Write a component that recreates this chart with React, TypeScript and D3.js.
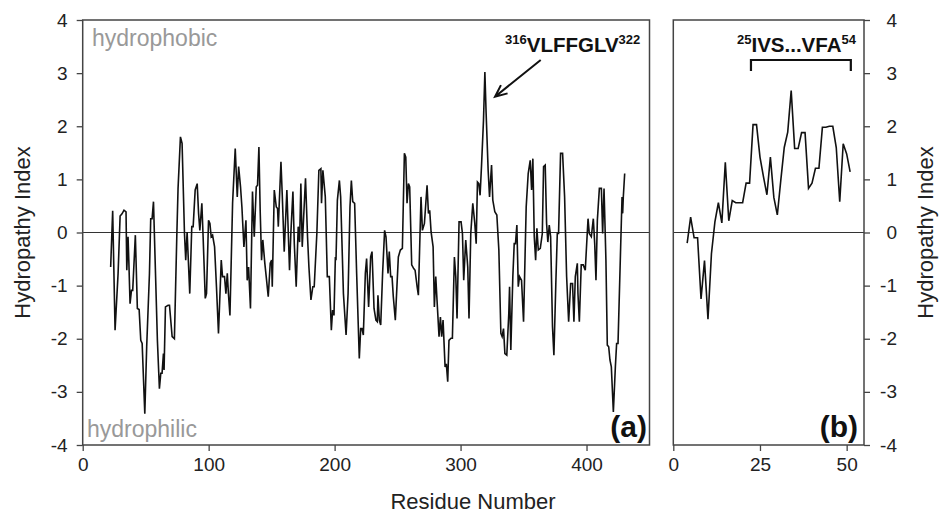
import React, { useEffect, useRef } from "react";
import * as d3 from "d3";

// panel (a): full sequence, residue number vs hydropathy index
const residuesA = [
  22.2, 23.8, 25.7, 28.1, 29.7, 31.2, 32.8, 34.4, 35.0, 36.0, 36.6, 37.6, 38.7, 39.7, 41.8, 43.4, 44.8, 46.1, 47.2, 49.3,
  50.8, 53.0, 54.0, 55.1, 56.2, 57.5, 59.3, 60.9, 62.0, 63.0, 64.1, 64.6, 65.7, 67.8, 68.9, 71.0, 72.8, 74.7, 75.7,
  77.6, 78.9, 80.8, 81.8, 82.9, 85.0, 86.6, 87.7, 89.3, 90.9, 92.0, 93.0, 94.6, 95.6, 97.3, 98.3, 99.9, 101.0, 102.0,
  103.1, 104.7, 106.2, 107.8, 110.0, 111.0, 112.6, 113.7, 114.8, 115.7, 116.9, 119.0, 121.1, 122.7, 123.8, 125.3, 126.4,
  128.0, 129.6, 130.6, 131.7, 133.2, 134.8,
  136.2, 137.8, 138.8, 139.9, 140.9, 142.0, 143.0, 144.6, 145.7, 147.3, 148.9, 150.0, 150.5, 152.1, 153.7, 154.7, 155.3,
  157.4, 158.4, 160.0, 162.1, 164.2, 165.3, 166.9, 168.0, 169.5, 171.1, 172.2, 173.2, 174.3, 175.3, 176.9, 178.5, 179.6,
  181.2, 182.7, 183.8, 185.9, 187.5, 189.1, 189.6, 190.7,
  192.6, 194.2, 195.8, 197.4, 198.4, 199.5, 200.6, 201.1, 202.2, 203.8, 204.8, 207.0, 209.1, 210.7, 212.2, 213.3, 214.4,
  215.9, 217.5, 219.6, 220.7, 221.7, 222.8, 224.4, 225.4, 227.0, 228.6, 229.7, 231.3, 232.8, 233.9, 234.4, 235.5, 236.6,
  238.1, 239.7, 240.8, 242.4, 243.4, 244.5, 245.6, 246.6, 248.2,
  250.6, 252.2, 253.8, 255.4, 256.5, 257.5, 258.6, 259.6, 261.2, 262.8, 263.9, 265.5, 266.5, 268.6, 269.7, 271.3, 273.4,
  274.5, 275.5, 276.6, 278.2, 279.2, 280.3, 281.3, 282.9, 284.0, 285.0, 286.1, 287.7, 288.7, 289.8, 290.8, 292.4, 293.5,
  295.1, 296.2, 297.2, 298.8, 300.4, 301.5, 302.5, 304.1, 305.7, 306.7,
  308.1, 309.7, 311.3, 312.4, 313.4, 314.5, 315.5, 316.6, 318.2, 319.3, 320.3, 321.9, 323.0, 324.6, 325.6, 327.2, 328.8,
  330.4, 332.0, 333.0, 334.1, 335.2, 336.7, 338.3, 338.9, 339.9, 341.5, 342.6, 343.6, 344.7, 345.8, 346.8, 348.4, 350.0,
  352.1, 353.7, 355.3, 356.4, 357.4, 358.5, 359.6, 360.6, 361.7, 363.3, 364.9, 365.9, 367.2,
  368.3, 369.3, 370.4, 371.5, 373.0, 374.1, 375.7, 376.8, 377.8, 379.4, 381.0, 382.6, 384.2, 385.8, 387.4, 388.9, 390.0,
  391.1, 392.7, 393.2, 394.3, 395.8, 397.4, 399.0, 401.2, 402.2, 403.8, 405.4, 406.5, 407.5, 408.6, 410.2, 411.8, 412.8,
  413.9, 415.4, 416.5, 417.6, 418.6, 419.7, 421.3, 422.9, 423.9, 425.0, 427.1, 428.2, 428.7, 429.2, 430.3,
];
const hydroA = [
  -0.65, 0.41, -1.84, -0.77, 0.31, 0.35, 0.42, 0.39, -0.71, -0.08, -0.52, -1.34, -1.09, -1.09, -0.05, -1.43, -1.45, -2.03, -2.09, -3.41,
  -2.15, -0.77, 0.26, 0.26, 0.58, -0.52, -2.03, -2.94, -2.65, -2.65, -2.28, -2.59, -1.4, -1.37, -1.37, -1.96, -2.0, -0.08, 0.83,
  1.8, 1.68, -0.02, -0.52, 0.01, -1.15, 0.11, 0.11, 0.8, 0.92, 0.36, 0.04, 0.55, -0.08, -1.24, -1.15, 0.23, 0.17, -0.08,
  -0.05, -0.27, -1.02, -1.9, -0.52, -0.83, -0.83, -1.15, -0.77, -1.15, -1.56, 0.55, 1.58, 0.67, 1.24, 0.86, 0.48,
  -0.27, 0.23, -0.9, -0.65, -1.43, 0.77,
  -0.08, 0.86, 0.89, 1.61, 0.42, -0.52, -0.14, -0.58, -0.83, -1.21, -0.58, -0.52, -1.02, 0.8, 0.48, 0.45, 0.11,
  1.33, 0.73, -0.36, 0.8, -0.71, 0.01, 0.77, -0.21, -1.02, 0.11, -0.18, 0.92, -0.27, 0.23, 1.02, -0.08, -0.65,
  -1.27, -1.02, -1.02, -0.02, 1.17, 1.2, 0.55, 1.17,
  0.67, -0.83, -0.83, -1.84, -1.46, -1.56, -0.46, -0.52, 0.61, 0.98, 0.67, -1.15, -1.93, -1.15, 0.48, 0.98, 0.58,
  0.55, -0.77, -2.37, -1.81, -1.81, -1.93, -0.77, -0.49, -1.4, -0.46, -0.36, -1.43, -1.65, -1.68, -1.18, -1.65, -1.74,
  -0.77, 0.04, -0.08, -0.77, -0.36, -0.83, -0.83, -1.21, -1.65,
  -0.46, -0.33, -0.3, 1.49, 1.42, 0.55, 0.92, 0.86, -0.61, -0.68, -0.71, -1.02, -1.18, 0.67, 0.04, 0.17, 0.89,
  0.36, 0.42, 0.01, -0.27, -1.4, -0.83, -1.27, -1.96, -1.59, -1.96, -1.65, -2.53, -2.47, -2.81, -2.03, -1.99, -1.99,
  -0.46, -0.83, -1.62, 0.2, 0.2, -0.02, -0.9, -0.14, -0.65, -1.62,
  -0.02, 0.55, 0.17, -0.21, 0.95, 0.92, 0.7, 1.24, 2.11, 3.02, 2.24, 1.17, 0.67, 1.27, 0.61, 0.39, 0.33,
  -0.33, -1.9, -1.96, -1.81, -2.28, -2.31, -1.52, -1.02, -2.21, -0.83, -0.21, -0.21, 0.14, -1.02, -0.83, -0.9, -1.68,
  0.48, 1.11, 1.36, 0.8, 1.39, -0.08, -0.52, 0.08, -0.33, -0.3, -0.02, 1.24, 1.27,
  0.17, -0.18, 0.14, -0.08, -1.78, -2.31, -0.9, -0.02, -0.02, 1.49, 1.49, 0.67, -0.83, -1.68, -0.96, -0.96, -1.68,
  -0.83, -0.58, -1.15, -1.68, -0.61, -0.61, -0.71, 0.26, -0.02, -0.08, 0.26, -0.21, -0.9, 0.23, 0.83, 0.83, -0.02,
  0.83, -0.52, -2.12, -2.15, -2.4, -2.53, -3.38, -2.53, -2.09, -2.09, -0.27, 0.67, 0.36, 0.67, 1.11,
];

// panel (b): N-terminal segment
const residuesB = [
  4, 5, 6, 7, 8, 9, 10, 11, 12, 13, 14, 15, 16, 17, 18, 19, 20, 21, 22, 23, 24, 25, 26, 27,
  28, 29, 30, 31, 32, 33, 34, 35, 36, 37, 38, 39, 40, 41, 42, 43, 44, 45, 46, 47, 48, 49, 50, 51,
];
const hydroB = [
  -0.2, 0.29, -0.1, -0.1, -1.25, -0.53, -1.63, -0.4, 0.2, 0.56, 0.18, 1.32, 0.22, 0.6, 0.56, 0.56, 0.56, 0.93, 0.93, 2.03, 2.03, 1.42, 1.05, 0.71,
  1.42, 0.66, 0.33, 0.98, 1.6, 1.89, 2.67, 1.58, 1.58, 1.88, 1.88, 0.83, 0.93, 1.21, 1.21, 1.98, 1.98, 2.0, 2.0, 1.6, 0.58, 1.67, 1.48, 1.14,
];

const ticksA = [0, 100, 200, 300, 400];
const ticksB = [0, 25, 50];
const ticksY = [-4, -3, -2, -1, 0, 1, 2, 3, 4];

const FONT = "Arial, 'Liberation Sans', Helvetica, sans-serif";

const App = () => {
  const svgRef = useRef<SVGSVGElement>(null);

  useEffect(() => {
    const svg = d3.select(svgRef.current);
    svg.selectAll("*").remove();
    svg.attr("font-family", FONT);

    const top = 20;
    const bottom = 445;
    const y = d3.scaleLinear().domain([-4, 4]).range([bottom, top]);
    const xa = d3.scaleLinear().domain([0, 450]).range([82.7, 649.5]);
    const xb = d3.scaleLinear().domain([0, 55]).range([673.3, 864]);

    const styleAxis = (g) => {
      g.select(".domain").remove();
      g.selectAll("line").attr("stroke", "#444").attr("stroke-width", 1.3);
      g.selectAll("text").attr("font-size", 19).attr("fill", "#222").attr("font-family", FONT);
    };

    const drawPanel = (x, xs, ys, ticks) => {
      const [x0, x1] = x.range();
      // zero line
      svg.append("line")
        .attr("x1", x0).attr("x2", x1)
        .attr("y1", y(0)).attr("y2", y(0))
        .attr("stroke", "#333").attr("stroke-width", 1.2);

      const line = d3.line<number>()
        .x((_, i) => x(xs[i]))
        .y((d) => y(d));
      svg.append("path")
        .datum(ys)
        .attr("d", line)
        .attr("fill", "none")
        .attr("stroke", "#111")
        .attr("stroke-width", 1.6);

      // frame
      svg.append("rect")
        .attr("x", x0).attr("y", top)
        .attr("width", x1 - x0).attr("height", bottom - top)
        .attr("fill", "none").attr("stroke", "#444").attr("stroke-width", 1.5);

      const gx = svg.append("g")
        .attr("transform", `translate(0,${bottom})`)
        .call(d3.axisBottom(x).tickValues(ticks).tickSize(6).tickPadding(7).tickFormat((d) => String(d)));
      styleAxis(gx);
    };

    drawPanel(xa, residuesA, hydroA, ticksA);
    drawPanel(xb, residuesB, hydroB, ticksB);

    // left y axis
    const gl = svg.append("g")
      .attr("transform", `translate(${xa.range()[0]},0)`)
      .call(d3.axisLeft(y).tickValues(ticksY).tickSize(6).tickPadding(9).tickFormat((d) => String(d)));
    styleAxis(gl);

    // right y axis
    const gr = svg.append("g")
      .attr("transform", `translate(${xb.range()[1]},0)`)
      .call(d3.axisRight(y).tickValues(ticksY).tickSize(6).tickPadding(9).tickFormat((d) => String(d)));
    styleAxis(gr);
    gr.selectAll("text").attr("text-anchor", "end").attr("x", 33);

    // axis titles
    svg.append("text")
      .attr("transform", `translate(30,${y(0)}) rotate(-90)`)
      .attr("text-anchor", "middle").attr("font-size", 22).attr("fill", "#222")
      .text("Hydropathy Index");
    svg.append("text")
      .attr("transform", `translate(933,${y(0)}) rotate(-90)`)
      .attr("text-anchor", "middle").attr("font-size", 22).attr("fill", "#222")
      .text("Hydropathy Index");
    svg.append("text")
      .attr("x", 473).attr("y", 509)
      .attr("text-anchor", "middle").attr("font-size", 22).attr("fill", "#222")
      .text("Residue Number");

    // region labels
    svg.append("text").attr("x", 92).attr("y", 46)
      .attr("font-size", 23).attr("fill", "#999").text("hydrophobic");
    svg.append("text").attr("x", 87).attr("y", 437)
      .attr("font-size", 23).attr("fill", "#999").text("hydrophilic");

    // panel tags
    svg.append("text").attr("x", 647).attr("y", 437).attr("text-anchor", "end")
      .attr("font-size", 30).attr("font-weight", "bold").attr("fill", "#111").text("(a)");
    svg.append("text").attr("x", 858).attr("y", 437).attr("text-anchor", "end")
      .attr("font-size", 30).attr("font-weight", "bold").attr("fill", "#111").text("(b)");

    // peptide annotation in (a)
    const ta = svg.append("text").attr("x", 505).attr("y", 52)
      .attr("font-weight", "bold").attr("fill", "#111");
    ta.append("tspan").attr("font-size", 13).attr("dy", -8).text("316");
    ta.append("tspan").attr("font-size", 20.5).attr("dy", 8).text("VLFFGLV");
    ta.append("tspan").attr("font-size", 13).attr("dy", -8).text("322");

    // arrow pointing at the 316-322 peak
    const tail = [540.7, 60];
    const tip = [495, 96.7];
    const ang = Math.atan2(tail[1] - tip[1], tail[0] - tip[0]);
    const hl = 13;
    const wing = (s) => [tip[0] + hl * Math.cos(ang + s), tip[1] + hl * Math.sin(ang + s)];
    const w1 = wing(0.42);
    const w2 = wing(-0.42);
    svg.append("path")
      .attr("d", `M${tail[0]},${tail[1]}L${tip[0]},${tip[1]}M${w1[0]},${w1[1]}L${tip[0]},${tip[1]}L${w2[0]},${w2[1]}`)
      .attr("fill", "none").attr("stroke", "#111").attr("stroke-width", 2);

    // segment annotation in (b)
    const tb = svg.append("text").attr("x", 737).attr("y", 52)
      .attr("font-weight", "bold").attr("fill", "#111");
    tb.append("tspan").attr("font-size", 13).attr("dy", -8).text("25");
    tb.append("tspan").attr("font-size", 20.5).attr("dy", 8).text("IVS...VFA");
    tb.append("tspan").attr("font-size", 13).attr("dy", -8).text("54");

    const bx0 = xb(22.4);
    const bx1 = xb(51.2);
    svg.append("path")
      .attr("d", `M${bx0},71V60H${bx1}V71`)
      .attr("fill", "none").attr("stroke", "#111").attr("stroke-width", 2.2);
  }, []);

  return (
    <svg
      ref={svgRef}
      width="939"
      height="521"
      style={{ position: "absolute", left: 0, top: 0, background: "#fff" }}
    ></svg>
  );
};

export default App;
